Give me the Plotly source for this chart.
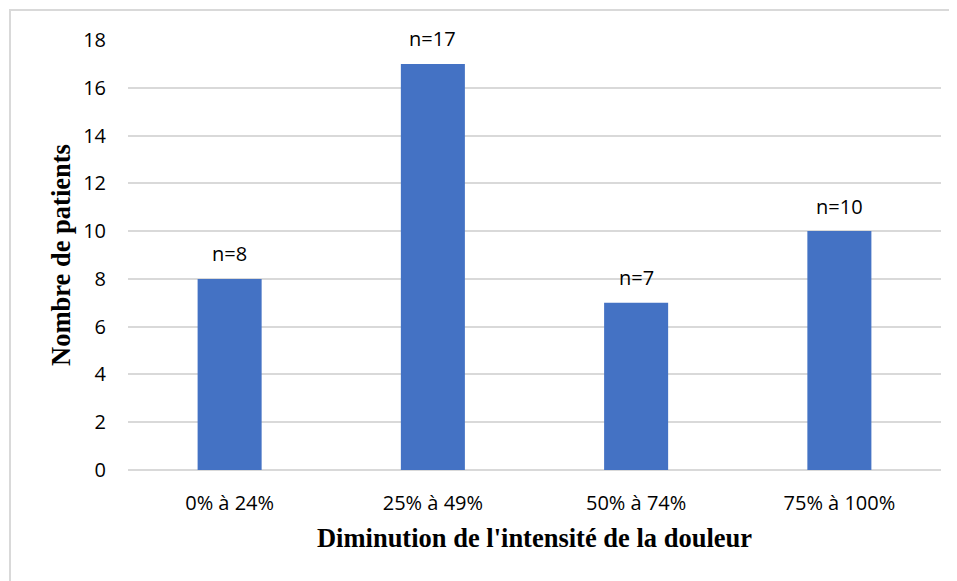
import plotly.graph_objects as go

categories = ["0% à 24%", "25% à 49%", "50% à 74%", "75% à 100%"]
values = [8, 17, 7, 10]
labels = ["n=8", "n=17", "n=7", "n=10"]
y_ticks = [0, 2, 4, 6, 8, 10, 12, 14, 16, 18]

SANS = "Open Sans, Noto Sans, sans-serif"
SERIF = "Liberation Serif, Times New Roman, serif"

fig = go.Figure()
fig.add_trace(go.Bar(x=categories, y=values, marker=dict(color="#4472C4", line=dict(width=0)),
                     hoverinfo="skip"))

for c, v, t in zip(categories, values, labels):
    fig.add_annotation(x=c, y=v, text=t, showarrow=False, yanchor="middle", yshift=25,
                       font=dict(family=SANS, size=20, color="#000000"))

# page body has an 8px margin; plot area sized to match reference
L, T, PW, PH = 120, 32, 813, 430
fig.update_layout(
    width=949, height=573,
    margin=dict(l=L, r=16, t=T, b=111),
    paper_bgcolor="white", plot_bgcolor="white",
    bargap=0.685,
    showlegend=False,
    font=dict(family=SANS, size=20, color="#000000"),
    shapes=[dict(type="rect", xref="paper", yref="paper",
                 x0=(2 - L) / PW, x1=1.5, y0=-1, y1=1 + (T - 2) / PH,
                 line=dict(color="#d9d9d9", width=2), fillcolor="rgba(0,0,0,0)", layer="below")],
)
fig.update_xaxes(showgrid=False, showline=False, zeroline=False, ticks="",
                 tickfont=dict(size=20), ticklabelstandoff=19,
                 title=dict(text="<b>Diminution de l'intensité de la douleur</b>",
                            font=dict(family=SERIF, size=26.5, color="#000000"),
                            standoff=13))
fig.update_yaxes(range=[0, 18], tickvals=y_ticks, showgrid=True, gridcolor="#d9d9d9", gridwidth=1.5,
                 zeroline=True, zerolinecolor="#d9d9d9", zerolinewidth=1.5, showline=False, ticks="",
                 tickfont=dict(size=20), ticklabelstandoff=21,
                 title=dict(text="<b>Nombre de patients</b>",
                            font=dict(family=SERIF, size=26.5, color="#000000"),
                            standoff=4))

fig.write_html("out.html")
